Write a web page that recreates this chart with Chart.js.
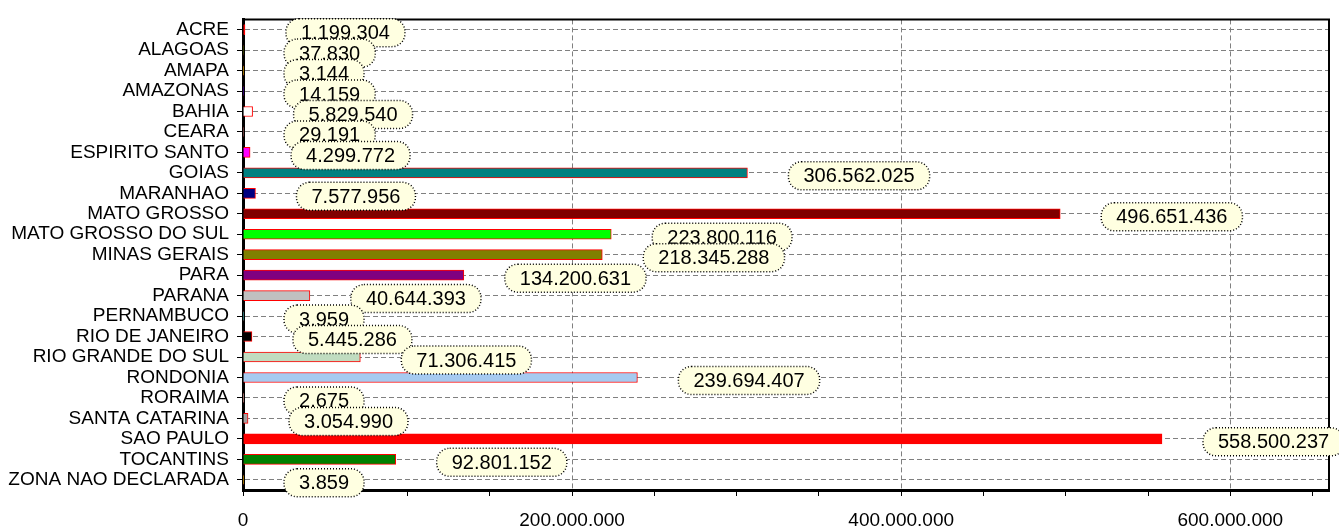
<!DOCTYPE html>
<html>
<head>
<meta charset="utf-8">
<script src="https://cdn.jsdelivr.net/npm/chart.js@4.4.1/dist/chart.umd.min.js"></script>
<style>
    body { margin: 0; background: #fff; }
    #chart { display: block; }
</style>
</head>
<body>
<canvas id="chart" width="1339" height="527"></canvas>
<script>
// data
let states = ['ACRE', 'ALAGOAS', 'AMAPA', 'AMAZONAS', 'BAHIA', 'CEARA', 'ESPIRITO SANTO', 'GOIAS',
    'MARANHAO', 'MATO GROSSO', 'MATO GROSSO DO SUL', 'MINAS GERAIS', 'PARA', 'PARANA', 'PERNAMBUCO',
    'RIO DE JANEIRO', 'RIO GRANDE DO SUL', 'RONDONIA', 'RORAIMA', 'SANTA CATARINA', 'SAO PAULO',
    'TOCANTINS', 'ZONA NAO DECLARADA'];
let values = [1199304, 37830, 3144, 14159, 5829540, 29191, 4299772, 306562025,
    7577956, 496651436, 223800116, 218345288, 134200631, 40644393, 3959,
    5445286, 71306415, 239694407, 2675, 3054990, 558500237,
    92801152, 3859];

// x axis: minor tick marks every 50M, labels + grid every 200M
let xMax = 660000000;
let xTickValues = [0, 50000000, 100000000, 150000000, 200000000, 250000000, 300000000,
    350000000, 400000000, 450000000, 500000000, 550000000, 600000000, 650000000];
let xLabelValues = [0, 200000000, 400000000, 600000000];

// classic palette, one colour per bar
let barColors = ['#ff0000', '#008000', '#ffff00', '#0000ff', '#ffffff', '#808080', '#ff00ff', '#008080',
    '#000080', '#800000', '#00ff00', '#808000', '#800080', '#c0c0c0', '#00ffff',
    '#000000', '#c0dcc0', '#a6caf0', '#fffbf0', '#a4a0a0', '#ff0000',
    '#008000', '#ffff00'];

const FONT = '"Liberation Sans", Arial, sans-serif';
Chart.defaults.font.family = FONT;

function formatNumber(n) {
    return String(n).replace(/\B(?=(\d{3})+(?!\d))/g, '.');
}

// frame on top/right + the dotted value "pills"
const valueLabels = {
    id: 'valueLabels',
    afterDatasetsDraw(chart) {
        let ctx = chart.ctx;
        let area = chart.chartArea;
        ctx.save();
        ctx.strokeStyle = '#000';
        ctx.lineWidth = 2;
        ctx.beginPath();
        ctx.moveTo(area.left, area.top);
        ctx.lineTo(area.right, area.top);
        ctx.lineTo(area.right, area.bottom);
        ctx.stroke();

        ctx.font = '20px ' + FONT;
        ctx.textAlign = 'center';
        ctx.textBaseline = 'middle';
        chart.getDatasetMeta(0).data.forEach((bar, i) => {
            let text = formatNumber(values[i]);
            let w = ctx.measureText(text).width + 30;
            let h = 28;
            let x = bar.x + 41;
            let y = bar.y + 3 - h / 2;
            ctx.beginPath();
            ctx.roundRect(x, y, w, h, 13);
            ctx.fillStyle = '#ffffe1';
            ctx.fill();
            ctx.setLineDash([1, 2]);
            ctx.lineWidth = 1.5;
            ctx.strokeStyle = '#000';
            ctx.stroke();
            ctx.setLineDash([]);
            ctx.fillStyle = '#000';
            ctx.fillText(text, x + w / 2, y + h / 2 + 1);
        });
        ctx.restore();
    }
};

new Chart(document.getElementById('chart'), {
    type: 'bar',
    data: {
        labels: states,
        datasets: [{
            data: values,
            backgroundColor: barColors,
            borderColor: '#ff0000',
            borderWidth: 1,
            barThickness: 10
        }]
    },
    options: {
        indexAxis: 'y',
        responsive: false,
        animation: false,
        layout: { padding: { top: 15, right: 10 } },
        plugins: {
            legend: { display: false },
            tooltip: { enabled: false }
        },
        scales: {
            x: {
                min: 0,
                max: xMax,
                afterBuildTicks: s => { s.ticks = xTickValues.map(v => ({ value: v })); },
                ticks: {
                    autoSkip: false,
                    maxRotation: 0,
                    color: '#000',
                    font: { size: 19 },
                    padding: 13,
                    callback: v => xLabelValues.includes(v) ? formatNumber(v) : ''
                },
                grid: {
                    color: c => c.tick && c.tick.value > 0 && xLabelValues.includes(c.tick.value) ? '#808080' : 'rgba(0,0,0,0)',
                    tickColor: '#000',
                    tickLength: 6,
                    lineWidth: 1
                },
                border: { color: '#000', width: 3, dash: [5, 3] },
                afterFit: s => { s.height = 37; }
            },
            y: {
                ticks: {
                    color: '#000',
                    font: { size: 19 },
                    padding: 8,
                    autoSkip: false
                },
                grid: {
                    color: '#808080',
                    offset: false,
                    tickColor: '#000',
                    tickLength: 6
                },
                border: { color: '#000', width: 3, dash: [5, 3] },
                afterFit: s => { s.width = 243; }
            }
        }
    },
    plugins: [valueLabels]
});
</script>
</body>
</html>
